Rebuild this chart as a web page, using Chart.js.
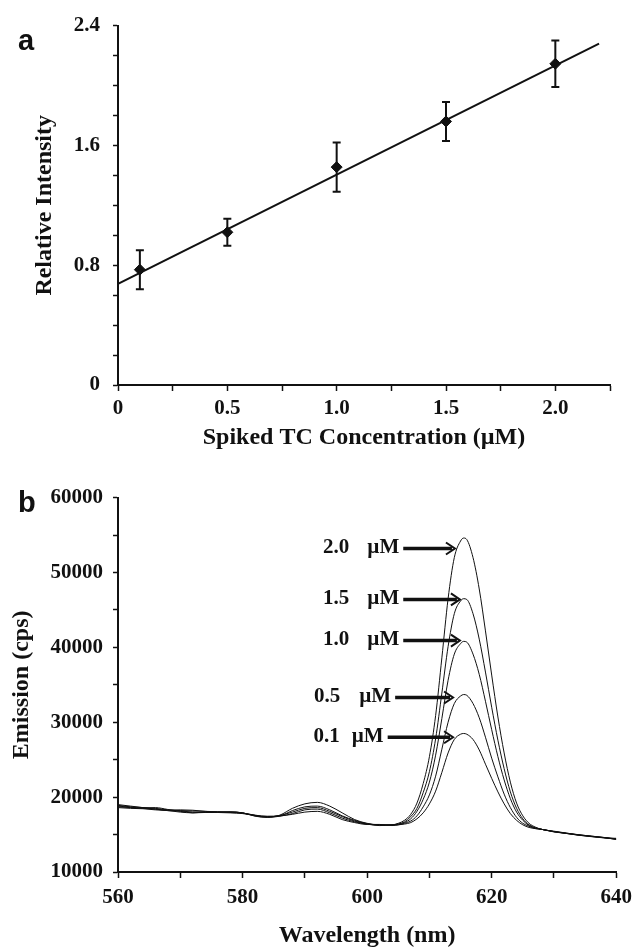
<!DOCTYPE html>
<html>
<head>
<meta charset="utf-8">
<title>Spiked TC emission</title>
<script src="https://cdn.jsdelivr.net/npm/chart.js@4.4.0/dist/chart.umd.min.js"></script>
<style>
    html, body { margin: 0; padding: 0; background: #fff; }
    #wrap { position: relative; width: 639px; height: 950px; }
    canvas { position: absolute; left: 0; }
    #chartA { top: 0; }
    #chartB { top: 475px; }
</style>
</head>
<body>
<div id="wrap">
    <canvas id="chartA" width="639" height="475"></canvas>
    <canvas id="chartB" width="639" height="475"></canvas>
</div>
<script>
// panel a - calibration
const spikedConc = [0.1, 0.5, 1.0, 1.5, 2.0];
const relIntensity = [0.77, 1.02, 1.455, 1.76, 2.145];
const relIntensityErr = [0.13, 0.09, 0.165, 0.13, 0.155];
const fitConc = [0, 2.2];
const fitIntensity = [0.675, 2.28];
const intensityTickLabels = [0, 0.8, 1.6, 2.4];
const concTickLabels = [0, 0.5, 1.0, 1.5, 2.0];

// panel b - emission spectra
const wavelengths = [560, 562, 564, 566, 568, 570, 572, 574, 576, 578, 580, 582, 584, 586, 588, 590, 592, 594, 596, 598, 600, 602,
    604, 605, 606, 607, 608, 609, 610, 611, 612, 613, 614, 615, 615.5, 616, 617, 618, 619, 620, 621, 622, 623, 624, 625, 626, 627, 628,
    630, 632, 634, 636, 638, 640];
const emission20 = [18900, 18700, 18600, 18500, 18300, 18200, 18150, 18100, 18000, 18000, 17900, 17500, 17300, 17600, 18500, 19100, 19300, 18800, 17900, 17000, 16500, 16300,
    16300, 16500, 16900, 17700, 19200, 21800, 25400, 30900, 38600, 46500, 52000, 54200, 54600, 54400, 52000, 47800, 42200, 36300, 30700, 25900, 22000, 19200, 17500, 16500, 16000, 15700,
    15450, 15200, 14950, 14800, 14600, 14350];
const emission15 = [18700, 18600, 18500, 18400, 18250, 18300, 18250, 18100, 18050, 17950, 17850, 17600, 17400, 17500, 18200, 18700, 18800, 18300, 17500, 16900, 16450, 16250,
    16300, 16400, 16700, 17400, 18500, 20600, 23400, 27800, 33900, 40100, 44500, 46200, 46500, 46400, 44500, 41100, 36700, 32000, 27600, 23800, 20700, 18500, 17100, 16300, 15900, 15700,
    15400, 15150, 14950, 14750, 14580, 14450];
const emission10 = [18600, 18500, 18450, 18300, 18200, 18150, 18000, 17950, 17950, 17900, 17800, 17550, 17350, 17550, 18000, 18500, 18600, 18100, 17400, 16800, 16400, 16200,
    16300, 16400, 16600, 17100, 18100, 19700, 22000, 25600, 30500, 35600, 39100, 40500, 40800, 40700, 39100, 36400, 32800, 29000, 25400, 22300, 19800, 18000, 16900, 16200, 15900, 15700,
    15400, 15180, 14980, 14780, 14620, 14400];
const emission05 = [18800, 18650, 18550, 18600, 18350, 18100, 17900, 18000, 18000, 18000, 17900, 17450, 17300, 17450, 17800, 18300, 18400, 17900, 17200, 16700, 16400, 16300,
    16250, 16300, 16500, 16800, 17500, 18700, 20300, 22800, 26400, 30000, 32500, 33500, 33700, 33600, 32500, 30600, 28000, 25200, 22700, 20400, 18600, 17300, 16500, 16100, 15800, 15700,
    15380, 15150, 14900, 14750, 14550, 14500];
const emission01 = [19000, 18800, 18600, 18400, 18200, 18000, 17900, 17950, 18000, 18050, 17900, 17550, 17450, 17500, 17700, 18000, 18100, 17700, 17000, 16600, 16350, 16350,
    16200, 16300, 16400, 16600, 17100, 17900, 19100, 20800, 23300, 25900, 27700, 28400, 28500, 28400, 27700, 26300, 24400, 22500, 20700, 19100, 17800, 16900, 16300, 15950, 15800, 15700,
    15350, 15150, 14920, 14720, 14600, 14350];
const spectraLabels = ['2.0', '1.5', '1.0', '0.5', '0.1'];
const arrowTipNm = [614.1, 614.9, 614.9, 613.8, 613.8];
const arrowTailNm = [605.8, 605.8, 605.8, 604.5, 603.3];
const arrowLevel = [53200, 46400, 40900, 33300, 28000];
const wavelengthTickLabels = [560, 580, 600, 620, 640];
const emissionTickLabels = [10000, 20000, 30000, 40000, 50000, 60000];

const serif = "'Liberation Serif', 'Times New Roman', serif";
const tickFont = { family: serif, weight: 'bold', size: 21 };
const titleFont = { family: serif, weight: 'bold', size: 24 };
const ink = '#111';

function hasLabel(list, value) {
    return list.some((t) => Math.abs(t - value) < 1e-6);
}

function toPoints(xs, ys) {
    return xs.map((x, i) => ({ x: x, y: ys[i] }));
}

function axisStyle(tickPadding) {
    return {
        border: { display: true, color: ink, width: 2 },
        grid: { drawOnChartArea: false, drawTicks: true, tickLength: 6, tickColor: ink, tickWidth: 1.5 },
        ticks: { color: ink, font: tickFont, padding: tickPadding, autoSkip: false, maxRotation: 0 }
    };
}

// Panel letter (a / b)
function panelLetter(letter, x, y) {
    return {
        id: 'panelLetter',
        afterDraw(chart) {
            const ctx = chart.ctx;
            ctx.save();
            ctx.fillStyle = ink;
            ctx.font = "bold 29px 'Liberation Sans', Arial, sans-serif";
            ctx.textBaseline = 'alphabetic';
            ctx.fillText(letter, x, y);
            ctx.restore();
        }
    };
}

const errorBarPlugin = {
    id: 'errorBars',
    afterDatasetsDraw(chart) {
        const ctx = chart.ctx;
        const xScale = chart.scales.x;
        const yScale = chart.scales.y;
        ctx.save();
        ctx.strokeStyle = ink;
        ctx.lineWidth = 2;
        spikedConc.forEach((c, i) => {
            const px = xScale.getPixelForValue(c);
            const top = yScale.getPixelForValue(relIntensity[i] + relIntensityErr[i]);
            const bottom = yScale.getPixelForValue(relIntensity[i] - relIntensityErr[i]);
            ctx.beginPath();
            ctx.moveTo(px, top);
            ctx.lineTo(px, bottom);
            ctx.moveTo(px - 4, top);
            ctx.lineTo(px + 4, top);
            ctx.moveTo(px - 4, bottom);
            ctx.lineTo(px + 4, bottom);
            ctx.stroke();
        });
        ctx.restore();
    }
};

const arrowPlugin = {
    id: 'peakArrows',
    afterDatasetsDraw(chart) {
        const ctx = chart.ctx;
        const xScale = chart.scales.x;
        const yScale = chart.scales.y;
        const gaps = [18, 18, 18, 19, 12];
        ctx.save();
        ctx.fillStyle = ink;
        ctx.strokeStyle = ink;
        ctx.font = "bold 21px " + serif;
        ctx.textBaseline = 'middle';
        ctx.textAlign = 'right';
        spectraLabels.forEach((label, i) => {
            const x1 = xScale.getPixelForValue(arrowTailNm[i]);
            const x2 = xScale.getPixelForValue(arrowTipNm[i]);
            const y = yScale.getPixelForValue(arrowLevel[i]);

            // shaft
            ctx.lineWidth = 3.5;
            ctx.beginPath();
            ctx.moveTo(x1, y);
            ctx.lineTo(x2 - 3, y);
            ctx.stroke();

            // open head
            ctx.lineWidth = 2;
            ctx.beginPath();
            ctx.moveTo(x2 - 9, y - 6);
            ctx.lineTo(x2, y);
            ctx.lineTo(x2 - 9, y + 6);
            ctx.stroke();

            // text
            const unitX = x1 - 4;
            ctx.fillText('\u00b5M', unitX, y - 1);
            const unitW = ctx.measureText('\u00b5M').width;
            ctx.fillText(label, unitX - unitW - gaps[i], y - 1);
        });
        ctx.restore();
    }
};

function initCalibrationChart() {
    const xAxis = axisStyle(5);
    const yAxis = axisStyle(13);
    yAxis.grid.tickLength = 5;

    const ctx = document.getElementById('chartA').getContext('2d');
    new Chart(ctx, {
        type: 'scatter',
        data: {
            datasets: [{
                type: 'line',
                data: toPoints(fitConc, fitIntensity),
                borderColor: ink,
                borderWidth: 2,
                pointRadius: 0,
                fill: false
            }, {
                data: toPoints(spikedConc, relIntensity),
                pointStyle: 'rectRot',
                pointRadius: 5.5,
                backgroundColor: ink,
                borderColor: ink
            }]
        },
        options: {
            responsive: false,
            animation: false,
            devicePixelRatio: 1,
            layout: { padding: { left: 0, right: 29, top: 20, bottom: 0 } },
            plugins: { legend: { display: false }, tooltip: { enabled: false } },
            scales: {
                x: {
                    type: 'linear',
                    min: 0,
                    max: 2.25,
                    border: xAxis.border,
                    grid: xAxis.grid,
                    ticks: Object.assign({}, xAxis.ticks, {
                        stepSize: 0.25,
                        callback: (v) => hasLabel(concTickLabels, v) ? (v === 0 ? '0' : v.toFixed(1)) : ''
                    }),
                    title: {
                        display: true,
                        text: 'Spiked TC Concentration (\u00b5M)',
                        color: ink,
                        font: titleFont,
                        padding: { top: 0, bottom: 23 }
                    },
                    afterFit: (scale) => { scale.height = 90; }
                },
                y: {
                    type: 'linear',
                    min: 0,
                    max: 2.4,
                    border: yAxis.border,
                    grid: yAxis.grid,
                    ticks: Object.assign({}, yAxis.ticks, {
                        stepSize: 0.2,
                        callback: (v) => hasLabel(intensityTickLabels, v) ? (v === 0 ? '0' : v.toFixed(1)) : ''
                    }),
                    title: {
                        display: true,
                        text: 'Relative Intensity',
                        color: ink,
                        font: titleFont,
                        padding: { top: 30, bottom: 0 }
                    },
                    afterFit: (scale) => { scale.width = 118; }
                }
            }
        },
        plugins: [errorBarPlugin, panelLetter('a', 18, 50)]
    });
}

function initSpectraChart() {
    const xAxis = axisStyle(7);
    const yAxis = axisStyle(10);
    yAxis.grid.tickLength = 5;

    const series = [emission20, emission15, emission10, emission05, emission01];
    const datasets = series.map((values) => ({
        data: toPoints(wavelengths, values),
        borderColor: ink,
        borderWidth: 1,
        pointRadius: 0,
        fill: false,
        cubicInterpolationMode: 'monotone'
    }));

    const ctx = document.getElementById('chartB').getContext('2d');
    new Chart(ctx, {
        type: 'line',
        data: { datasets: datasets },
        options: {
            responsive: false,
            animation: false,
            devicePixelRatio: 1,
            layout: { padding: { left: 0, right: 15, top: 22, bottom: 0 } },
            plugins: { legend: { display: false }, tooltip: { enabled: false } },
            scales: {
                x: {
                    type: 'linear',
                    min: 560,
                    max: 640,
                    border: xAxis.border,
                    grid: xAxis.grid,
                    ticks: Object.assign({}, xAxis.ticks, {
                        stepSize: 10,
                        callback: (v) => hasLabel(wavelengthTickLabels, v) ? String(v) : ''
                    }),
                    title: {
                        display: true,
                        text: 'Wavelength (nm)',
                        color: ink,
                        font: titleFont,
                        padding: { top: 0, bottom: 0 }
                    },
                    afterFit: (scale) => { scale.height = 78; }
                },
                y: {
                    type: 'linear',
                    min: 10000,
                    max: 60000,
                    border: yAxis.border,
                    grid: yAxis.grid,
                    ticks: Object.assign({}, yAxis.ticks, {
                        stepSize: 5000,
                        callback: (v) => hasLabel(emissionTickLabels, v) ? String(v) : ''
                    }),
                    title: {
                        display: true,
                        text: 'Emission (cps)',
                        color: ink,
                        font: titleFont,
                        padding: { top: 7, bottom: 0 }
                    },
                    afterFit: (scale) => { scale.width = 118; }
                }
            }
        },
        plugins: [arrowPlugin, panelLetter('b', 18, 37)]
    });
}

initCalibrationChart();
initSpectraChart();
</script>
</body>
</html>
